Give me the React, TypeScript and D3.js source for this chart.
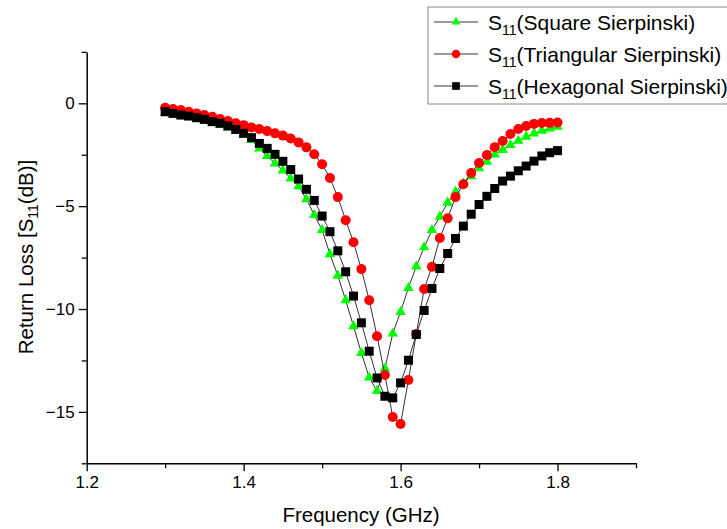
import React, { useEffect, useRef } from 'react'
import * as d3 from 'd3'

// frequency points (GHz)
const freq = [
  1.30, 1.31, 1.32, 1.33, 1.34, 1.35, 1.36, 1.37, 1.38, 1.39,
  1.40, 1.41, 1.42, 1.43, 1.44, 1.45, 1.46, 1.47, 1.48, 1.49,
  1.50, 1.51, 1.52, 1.53, 1.54, 1.55, 1.56, 1.57, 1.58, 1.59,
  1.60, 1.61, 1.62, 1.63, 1.64, 1.65, 1.66, 1.67, 1.68, 1.69,
  1.70, 1.71, 1.72, 1.73, 1.74, 1.75, 1.76, 1.77, 1.78, 1.79,
  1.80,
]

// S11 (dB)
const squareS11 = [
  -0.45, -0.52, -0.59, -0.66, -0.74, -0.83, -0.93, -1.04, -1.17, -1.33,
  -1.52, -1.78, -2.19, -2.56, -2.92, -3.26, -3.65, -4.03, -4.66, -5.43,
  -6.16, -7.33, -8.38, -9.57, -10.83, -12.13, -13.33, -13.98, -12.89, -11.19,
  -10.14, -8.97, -7.93, -7.0, -6.16, -5.51, -4.83, -4.30, -3.89, -3.54,
  -3.16, -2.84, -2.48, -2.27, -2.03, -1.82, -1.62, -1.46, -1.33, -1.22,
  -1.14,
]

const triangularS11 = [
  -0.22, -0.28, -0.33, -0.41, -0.49, -0.57, -0.65, -0.76, -0.86, -0.97,
  -1.06, -1.17, -1.25, -1.35, -1.46, -1.57, -1.71, -1.90, -2.14, -2.48,
  -2.96, -3.63, -4.56, -5.68, -6.75, -8.06, -9.57, -11.32, -13.21, -15.25,
  -15.59, -13.45, -11.22, -9.03, -7.95, -6.55, -5.59, -4.56, -3.93, -3.39,
  -2.90, -2.51, -2.13, -1.83, -1.49, -1.25, -1.10, -1.00, -0.96, -0.95,
  -0.93,
]

const hexagonalS11 = [
  -0.41, -0.49, -0.57, -0.62, -0.70, -0.78, -0.89, -0.97, -1.10, -1.27,
  -1.46, -1.67, -1.95, -2.19, -2.48, -2.82, -3.22, -3.68, -4.18, -4.72,
  -5.48, -6.24, -7.17, -8.19, -9.37, -10.67, -12.05, -13.35, -14.24, -14.32,
  -13.59, -12.49, -11.24, -10.07, -9.00, -8.03, -7.30, -6.57, -5.97, -5.39,
  -4.92, -4.52, -4.14, -3.78, -3.54, -3.28, -3.05, -2.81, -2.56, -2.40,
  -2.30,
]

const seriesNames = ['(Square Sierpinski)', '(Triangular Sierpinski)', '(Hexagonal Sierpinski)']

const xTicks = [1.2, 1.4, 1.6, 1.8]
const xMinorTicks = [1.3, 1.5, 1.7, 1.9]
const yTicks = [0, -5, -10, -15]
const yMinorTicks = [2.5, -2.5, -7.5, -12.5, -17.5]

const FONT = '"Liberation Sans", Arial, sans-serif'

const App = () => {
  const ref = useRef<SVGSVGElement>(null)

  useEffect(() => {
    const svg = d3.select(ref.current)
    svg.selectAll('*').remove()

    const x = d3.scaleLinear().domain([1.2, 1.9]).range([86.7, 636])
    const y = d3.scaleLinear().domain([-17.5, 2.5]).range([463.3, 51.9])

    // axes
    const xAxis = svg.append('g').attr('transform', `translate(0,${y(-17.5)})`)
    xAxis.call(d3.axisBottom(x).tickValues(xTicks).tickSize(8).tickSizeOuter(0).tickPadding(5).tickFormat(d3.format('.1f')))
    const xMinor = svg.append('g').attr('transform', `translate(0,${y(-17.5)})`)
    xMinor.call(d3.axisBottom(x).tickValues(xMinorTicks).tickSize(5).tickSizeOuter(0).tickFormat(() => ''))
    xMinor.select('.domain').remove()

    const yAxis = svg.append('g').attr('transform', `translate(${x(1.2)},0)`)
    yAxis.call(d3.axisLeft(y).tickValues(yTicks).tickSize(8).tickSizeOuter(0).tickPadding(4).tickFormat(d3.format('d')))
    const yMinor = svg.append('g').attr('transform', `translate(${x(1.2)},0)`)
    yMinor.call(d3.axisLeft(y).tickValues(yMinorTicks).tickSize(5).tickSizeOuter(0).tickFormat(() => ''))
    yMinor.select('.domain').remove()

    svg.selectAll('.domain').attr('stroke', '#000').attr('stroke-width', 1.5)
    svg.selectAll('.tick line').attr('stroke', '#000').attr('stroke-width', 1.3)
    svg.selectAll('.tick text').attr('font-family', FONT).attr('font-size', 17).attr('fill', '#000')

    // axis titles
    svg.append('text')
      .attr('x', 361).attr('y', 522)
      .attr('text-anchor', 'middle')
      .attr('font-family', FONT).attr('font-size', 20.5)
      .text('Frequency (GHz)')

    const yTitle = svg.append('text')
      .attr('transform', 'translate(33,257) rotate(-90)')
      .attr('text-anchor', 'middle')
      .attr('font-family', FONT).attr('font-size', 20.5)
    yTitle.append('tspan').text('Return Loss [S')
    yTitle.append('tspan').attr('font-size', 14).attr('dy', 5).text('11')
    yTitle.append('tspan').attr('dy', -5).text('(dB)]')

    // series
    const series = [
      { values: squareS11, color: '#00ff00', shape: 'triangle' },
      { values: triangularS11, color: '#ff0000', shape: 'circle' },
      { values: hexagonalS11, color: '#000000', shape: 'square' },
    ]

    const line = d3.line<number>()
      .x((_, i) => x(freq[i]))
      .y((d) => y(d))

    const drawMarker = (g: any, shape: string, color: string, cx: number, cy: number, scale: number) => {
      if (shape === 'circle') {
        g.append('circle').attr('cx', cx).attr('cy', cy).attr('r', 5 * scale).attr('fill', color)
      } else if (shape === 'square') {
        const s = 9 * scale
        g.append('rect').attr('x', cx - s / 2).attr('y', cy - s / 2).attr('width', s).attr('height', s).attr('fill', color)
      } else {
        g.append('path')
          .attr('d', d3.symbol().type(d3.symbolTriangle).size(48 * scale * scale)())
          .attr('transform', `translate(${cx},${cy})`)
          .attr('fill', color)
      }
    }

    series.forEach((s) => {
      const g = svg.append('g')
      g.append('path')
        .attr('d', line(s.values))
        .attr('fill', 'none')
        .attr('stroke', '#333')
        .attr('stroke-width', 1)
      s.values.forEach((v, i) => drawMarker(g, s.shape, s.color, x(freq[i]), y(v), 1))
    })

    // legend
    const legend = svg.append('g')
    legend.append('rect')
      .attr('x', 428).attr('y', 7).attr('width', 330).attr('height', 97)
      .attr('fill', '#fff').attr('stroke', '#888').attr('stroke-width', 1)

    series.forEach((s, i) => {
      const cy = 22 + i * 32
      legend.append('line')
        .attr('x1', 434).attr('x2', 478).attr('y1', cy).attr('y2', cy)
        .attr('stroke', '#333').attr('stroke-width', 1)
      drawMarker(legend, s.shape, s.color, 456, cy, 0.85)
      const t = legend.append('text')
        .attr('x', 488).attr('y', cy + 8)
        .attr('font-family', FONT).attr('font-size', 21)
      t.append('tspan').text('S')
      t.append('tspan').attr('font-size', 14).attr('dy', 5).text('11')
      t.append('tspan').attr('dy', -5).text(seriesNames[i])
    })
  }, [])

  return (
    <svg
      ref={ref}
      width={727}
      height={529}
      style={{ position: 'absolute', left: 0, top: 0, background: '#fff' }}
    />
  )
}

export default App
